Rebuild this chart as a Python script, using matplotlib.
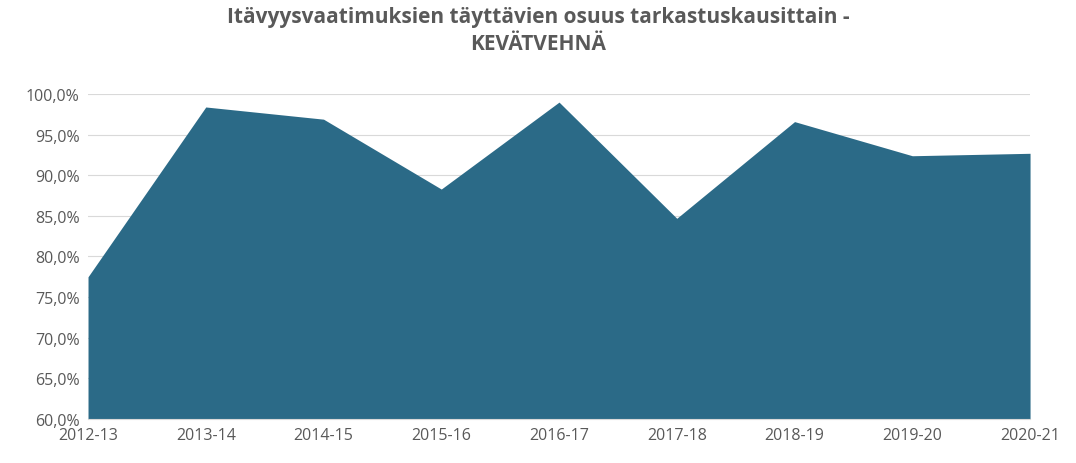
import matplotlib.pyplot as plt
from matplotlib.ticker import FuncFormatter

seasons = ["2012-13", "2013-14", "2014-15", "2015-16", "2016-17",
           "2017-18", "2018-19", "2019-20", "2020-21"]
share = [77.5, 98.4, 96.9, 88.3, 99.0, 84.7, 96.6, 92.4, 92.7]

plt.rcParams['font.family'] = ['Open Sans', 'DejaVu Sans']

fig = plt.figure(figsize=(10.76, 4.64), dpi=100)
ax = fig.add_axes([0.0818, 0.0948, 0.8755, 0.7005])

x = range(len(seasons))
ax.fill_between(x, 60, share, color='#2B6A87', linewidth=0, zorder=2)

ax.set_xlim(0, len(seasons) - 1)
ax.set_ylim(60, 100)
ax.set_yticks(range(60, 101, 5))
ax.yaxis.set_major_formatter(FuncFormatter(lambda v, p: f"{v:.1f}%".replace('.', ',')))
ax.set_xticks(list(x))
ax.set_xticklabels(seasons)
ax.grid(axis='y', color='#d9d9d9', linewidth=0.8, zorder=0)
for s in ['top', 'right', 'left']:
  ax.spines[s].set_visible(False)
ax.spines['bottom'].set_color('#d9d9d9')
ax.tick_params(axis='both', length=0, labelsize=11.5, colors='#595959', pad=6)

fig.suptitle("Itävyysvaatimuksien täyttävien osuus tarkastuskausittain -\nKEVÄTVEHNÄ",
             fontsize=15, fontweight='bold', color='#595959', y=0.985, linespacing=1.4)

plt.savefig("out.png", dpi=100)
